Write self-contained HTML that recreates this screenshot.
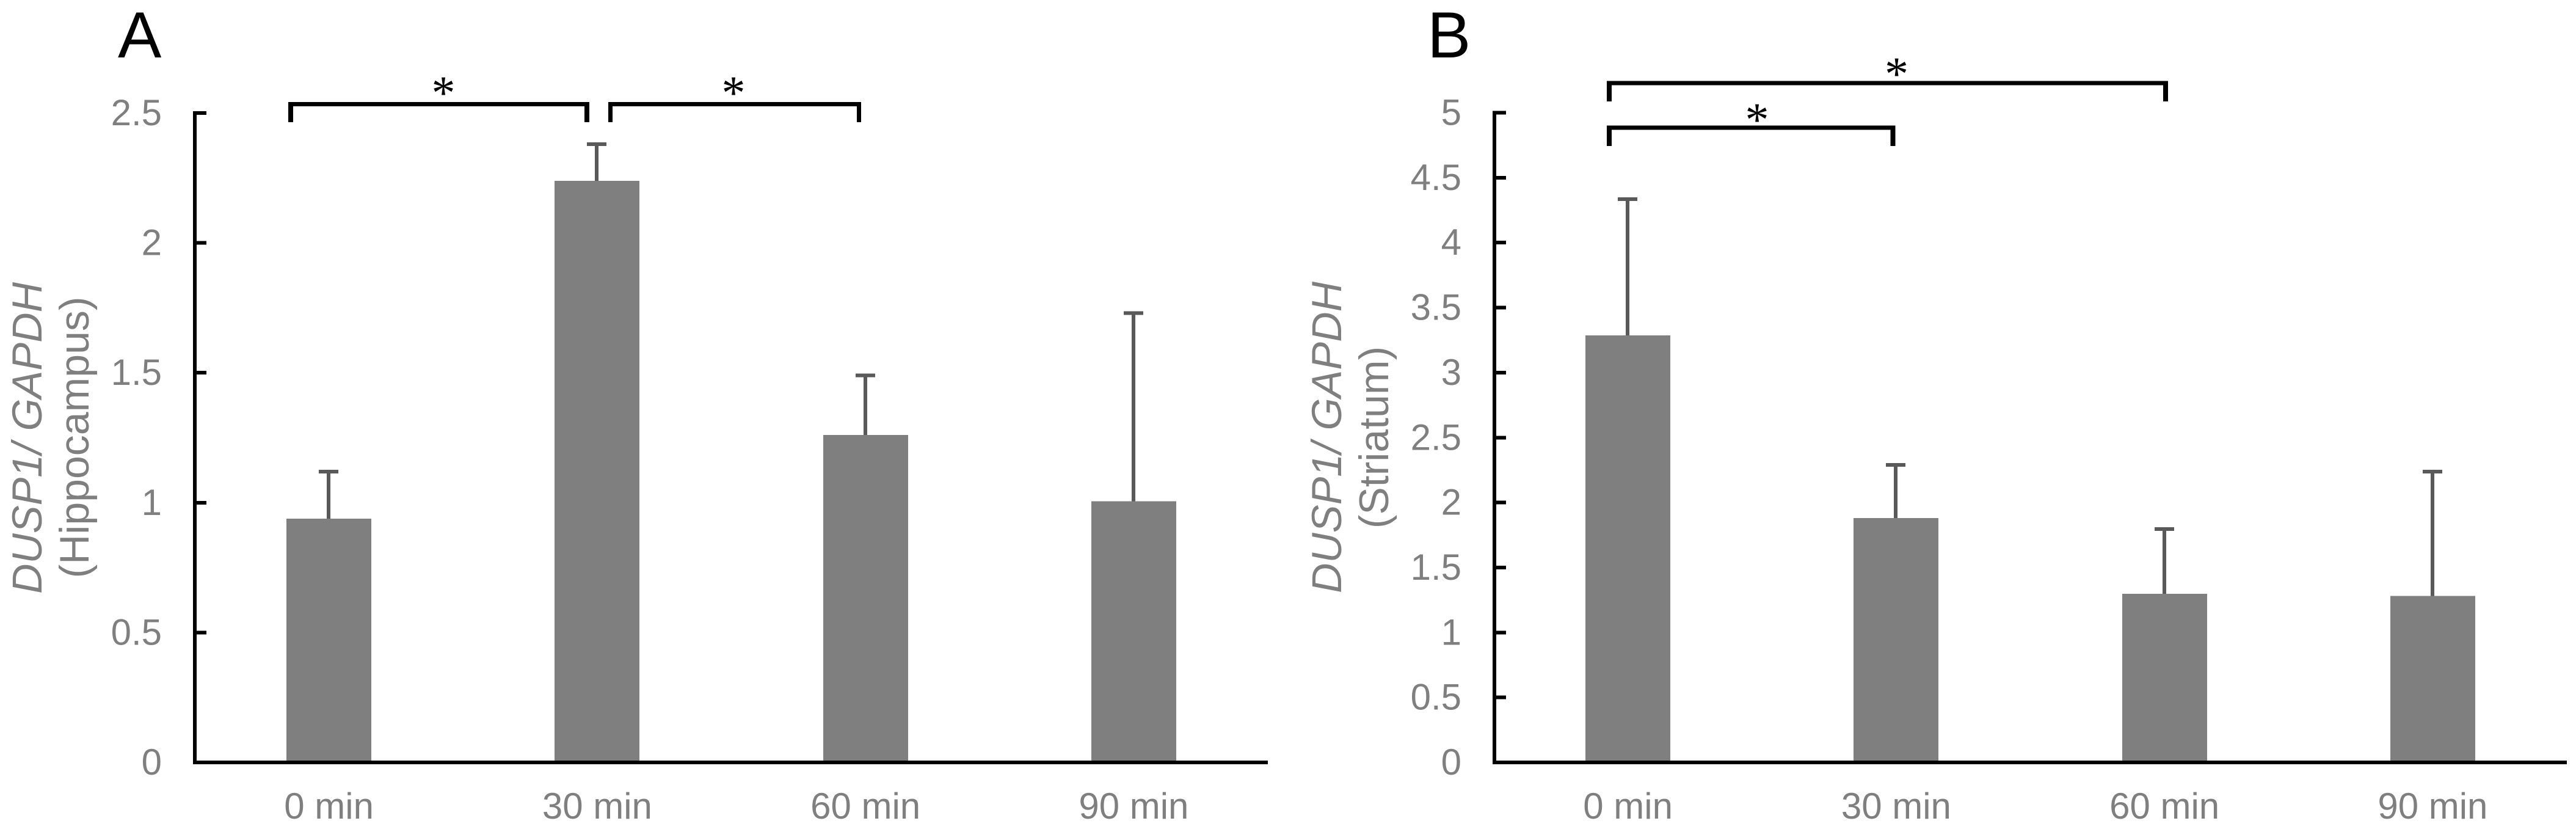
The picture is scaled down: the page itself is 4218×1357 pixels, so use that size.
<!DOCTYPE html>
<html lang="en">
<head>
<meta charset="utf-8">
<title>DUSP1 / GAPDH expression</title>
<style>
html,body{margin:0;padding:0;background:#fff;width:4218px;height:1357px;overflow:hidden}
svg{display:block}
text{font-family:"Liberation Sans",Arial,sans-serif}
.tick,.cat,.ytitle{fill:#7f7f7f}
.tick,.cat{font-size:60px}
.panel{font-size:107px;fill:#000}
.star{font-family:"Liberation Serif","Times New Roman",serif;font-size:78px;fill:#000;text-anchor:middle}
.bracket{fill:#000;stroke:none;shape-rendering:crispEdges}
</style>
</head>
<body>
<svg id="figure" xmlns="http://www.w3.org/2000/svg" width="4218" height="1357" viewBox="0 0 4218 1357">
  <rect width="4218" height="1357" fill="#fff"/>

  <text class="panel" x="193" y="94">A</text>
  <text class="panel" x="2337" y="94">B</text>

  <g id="chart-a"></g>
  <g id="chart-b"></g>

  <text class="ytitle" transform="translate(68,717) rotate(-90)" text-anchor="middle" font-size="68.5" font-style="italic">DUSP1/ GAPDH</text>
  <text class="ytitle" transform="translate(145,716) rotate(-90)" text-anchor="middle" font-size="68">(Hippocampus)</text>
  <text class="ytitle" transform="translate(2196,716) rotate(-90)" text-anchor="middle" font-size="68.5" font-style="italic">DUSP1/ GAPDH</text>
  <text class="ytitle" transform="translate(2273,716) rotate(-90)" text-anchor="middle" font-size="68">(Striatum)</text>

  <path class="bracket" d="M472 200V167H965V200H957V174H480V200Z"/>
  <text class="star" x="726" y="178">*</text>
  <path class="bracket" d="M996 200V167H1410V200H1403V174H1003V200Z"/>
  <text class="star" x="1201" y="178">*</text>
  <path class="bracket" d="M2631 166V132.5H3550V166H3542V139.5H2639V166Z"/>
  <text class="star" x="3105.5" y="147">*</text>
  <path class="bracket" d="M2631 239V205.5H3103.5V239H3095.5V212.5H2639V239Z"/>
  <text class="star" x="2877" y="222">*</text>
</svg>
<script>
const categories = ['0 min', '30 min', '60 min', '90 min'];

const hippocampusValues = [0.938, 2.239, 1.26, 1.005];
const hippocampusErrorTops = [1.12, 2.38, 1.49, 1.73];
const hippocampusTicks = [0, 0.5, 1, 1.5, 2, 2.5];

const striatumValues = [3.286, 1.88, 1.298, 1.282];
const striatumErrorTops = [4.335, 2.29, 1.795, 2.238];
const striatumTicks = [0, 0.5, 1, 1.5, 2, 2.5, 3, 3.5, 4, 4.5, 5];

const SVG_NS = 'http://www.w3.org/2000/svg';

function make(parent, tag, attrs, content) {
  const el = document.createElementNS(SVG_NS, tag);
  for (const k in attrs) el.setAttribute(k, attrs[k]);
  if (content !== undefined) el.textContent = content;
  parent.appendChild(el);
  return el;
}

function drawChart(root, prefix, values, errorTops, ticks, frame) {
  const yMax = ticks[ticks.length - 1];
  const yScale = v => frame.bottom - (v / yMax) * (frame.bottom - frame.top);
  const band = (frame.right - frame.left) / categories.length;
  const xScale = i => frame.left + band * (i + 0.5);
  const barWidth = 139;
  const capWidth = 32;

  categories.forEach((cat, i) => {
    const cx = xScale(i);
    const stemX = Math.floor(cx);
    const top = yScale(values[i]);
    const errTop = yScale(errorTops[i]);

    const bar = make(root, 'rect', {x: Math.round(cx - barWidth / 2), y: top, width: barWidth, height: frame.bottom - top, fill: '#7f7f7f', 'shape-rendering': 'crispEdges'});
    
    

    const stem = make(root, 'line', {x1: stemX, x2: stemX, y1: top, y2: errTop, stroke: '#595959', 'stroke-width': 6, 'shape-rendering': 'crispEdges'});
    
    

    const cap = make(root, 'line', {x1: stemX - capWidth / 2, x2: stemX + capWidth / 2, y1: errTop, y2: errTop, stroke: '#595959', 'stroke-width': 6, 'shape-rendering': 'crispEdges'});
    
    

    const label = make(root, 'text', {x: cx, y: 1340, 'text-anchor': 'middle', class: 'cat'}, cat);
    
    
  });

  ticks.forEach((t, i) => {
    const y = yScale(t);
    const mark = make(root, 'line', {x1: frame.axisX, x2: frame.axisX + 19, y1: y, y2: y, stroke: '#000', 'stroke-width': 6, 'shape-rendering': 'crispEdges'});
    
    

    const label = make(root, 'text', {x: frame.axisX - 54, y: y + 20, 'text-anchor': 'end', class: 'tick'}, String(t));
    
    
  });

  const yAxis = make(root, 'line', {x1: frame.axisX, x2: frame.axisX, y1: frame.top - 3, y2: frame.bottom + 3, stroke: '#000', 'stroke-width': 6, 'shape-rendering': 'crispEdges'});
  
  

  const xAxis = make(root, 'line', {x1: frame.axisX - 1, x2: frame.right, y1: frame.bottom, y2: frame.bottom, stroke: '#000', 'stroke-width': 6, 'shape-rendering': 'crispEdges'});
  
  
}

drawChart(document.getElementById('chart-a'), 'a', hippocampusValues, hippocampusErrorTops, hippocampusTicks,
  {left: 319, axisX: 319, right: 2076, top: 185, bottom: 1248});
drawChart(document.getElementById('chart-b'), 'b', striatumValues, striatumErrorTops, striatumTicks,
  {left: 2446, axisX: 2447, right: 4203, top: 184.5, bottom: 1248});
</script>
</body>
</html>
